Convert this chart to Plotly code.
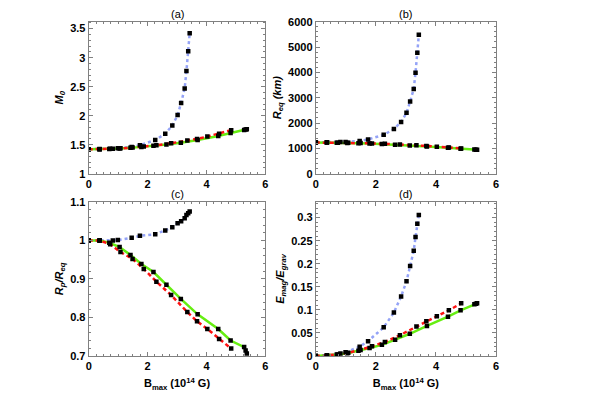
import plotly.graph_objects as go

# B_max (10^14 G) sample points for each sequence
x_blue = [0, 0.37, 0.82, 0.99, 1.46, 1.74, 2.26, 2.6, 2.84, 3.02, 3.14, 3.26, 3.32, 3.38, 3.43]
x_green = [0, 0.37, 0.7, 1.05, 1.42, 1.79, 2.2, 2.64, 3.13, 3.7, 4.4, 4.82, 5.28, 5.33, 5.37]
x_red = [0, 0.37, 0.73, 1.08, 1.49, 1.87, 2.3, 2.8, 3.35, 3.68, 4.03, 4.43, 4.84]

# (a) M_0
m0_blue = [1.42, 1.425, 1.43, 1.44, 1.46, 1.49, 1.58, 1.69, 1.83, 2.01, 2.22, 2.47, 2.77, 3.11, 3.42]
m0_green = [1.42, 1.422, 1.427, 1.435, 1.445, 1.46, 1.48, 1.505, 1.535, 1.58, 1.65, 1.70, 1.755, 1.76, 1.765]
m0_red = [1.42, 1.423, 1.428, 1.437, 1.45, 1.468, 1.49, 1.525, 1.57, 1.60, 1.64, 1.69, 1.75]

# (b) R_eq (km)
req_blue = [1240, 1245, 1250, 1255, 1290, 1354, 1533, 1762, 2043, 2401, 2848, 3346, 3985, 4776, 5479]
req_green = [1230, 1228, 1222, 1215, 1205, 1190, 1170, 1145, 1115, 1075, 1020, 985, 950, 948, 945]
req_red = [1230, 1228, 1224, 1218, 1208, 1196, 1178, 1155, 1120, 1095, 1065, 1030, 995]

# (c) R_p / R_eq
rr_blue = [1.0, 1.0, 1.0, 1.001, 1.007, 1.012, 1.016, 1.026, 1.034, 1.045, 1.05, 1.058, 1.066, 1.071, 1.075]
rr_green = [1.0, 1.0, 0.994, 0.983, 0.962, 0.939, 0.918, 0.885, 0.848, 0.808, 0.770, 0.740, 0.723, 0.714, 0.706]
rr_red = [1.0, 1.0, 0.99, 0.970, 0.952, 0.926, 0.893, 0.858, 0.814, 0.790, 0.770, 0.744, 0.719]

# (d) E_mag / E_grav
e_blue = [0, 0.001, 0.005, 0.008, 0.02, 0.032, 0.062, 0.094, 0.129, 0.162, 0.195, 0.228, 0.258, 0.287, 0.306]
e_green = [0, 0.001, 0.003, 0.006, 0.011, 0.017, 0.024, 0.035, 0.048, 0.065, 0.085, 0.099, 0.112, 0.113, 0.114]
e_red = [0, 0.001, 0.003, 0.007, 0.013, 0.021, 0.03, 0.045, 0.064, 0.075, 0.086, 0.099, 0.114]

panel_titles = ["(a)", "(b)", "(c)", "(d)"]
y_titles = ["<b><i>M<sub>0</sub></i></b>", "<b><i>R<sub>eq</sub> (km)</i></b>",
            "<b><i>R<sub>p</sub>/R<sub>eq</sub></i></b>", "<b><i>E<sub>mag</sub>/E<sub>grav</sub></i></b>"]
x_title = "<b>B<sub>max</sub> (10<sup>14</sup> G)</b>"

BLUE = "#94a3f7"
GREEN = "#66ee11"
RED = "#ff1111"

panels = [
    (m0_blue, m0_green, m0_red, [1, 3.62], 0.5),
    (req_blue, req_green, req_red, [0, 6000], 1000),
    (rr_blue, rr_green, rr_red, [0.7, 1.1], 0.1),
    (e_blue, e_green, e_red, [0, 0.334], 0.05),
]

x_domains = [[0.1445, 0.4424], [0.5275, 0.8314], [0.1445, 0.4424], [0.5275, 0.8314]]
y_domains = [[0.561, 0.959], [0.561, 0.959], [0.084, 0.487], [0.084, 0.487]]

fig = go.Figure()
layout = dict(
    width=599, height=394,
    paper_bgcolor="white", plot_bgcolor="white",
    margin=dict(l=0, r=0, t=0, b=0),
    showlegend=False,
    font=dict(family="Liberation Sans, Arial, sans-serif", size=11, color="black"),
)
annotations = []

for i, (yb, yg, yr, yrange, ydt) in enumerate(panels):
    n = "" if i == 0 else str(i + 1)
    xa, ya = "x" + n, "y" + n
    # lines first, then square markers on top
    fig.add_trace(go.Scatter(x=x_blue, y=yb, mode="lines", xaxis=xa, yaxis=ya,
                             line=dict(color=BLUE, width=2.5, dash="dot")))
    fig.add_trace(go.Scatter(x=x_green, y=yg, mode="lines", xaxis=xa, yaxis=ya,
                             line=dict(color=GREEN, width=2.5)))
    fig.add_trace(go.Scatter(x=x_red, y=yr, mode="lines", xaxis=xa, yaxis=ya,
                             line=dict(color=RED, width=2.5, dash="4px,3px")))
    for xs, ys in [(x_blue, yb), (x_green, yg), (x_red, yr)]:
        fig.add_trace(go.Scatter(x=xs, y=ys, mode="markers", xaxis=xa, yaxis=ya,
                                 marker=dict(symbol="square", size=4.5, color="black")))

    axis_common = dict(
        showline=True, linecolor="#808080", linewidth=1, mirror="ticks",
        ticks="inside", ticklen=4, tickcolor="#808080", showgrid=False, zeroline=False,
        tickfont=dict(size=11, weight="bold", color="black"),
    )
    layout["xaxis" + n] = dict(
        axis_common, domain=x_domains[i], anchor=ya, range=[0, 6], dtick=2,
        minor=dict(ticks="inside", ticklen=2, dtick=0.25, tickcolor="#808080"),
        title=dict(text=x_title if i >= 2 else "", font=dict(size=11), standoff=8),
    )
    layout["yaxis" + n] = dict(
        axis_common, domain=y_domains[i], anchor=xa, range=yrange, dtick=ydt,
        tick0=yrange[0] if i != 3 else 0,
        minor=dict(ticks="inside", ticklen=2, dtick=ydt / 5, tickcolor="#808080"),
        title=dict(text=y_titles[i], font=dict(size=11), standoff=4),
    )
    annotations.append(dict(
        text=panel_titles[i], xref="paper", yref="paper",
        x=sum(x_domains[i]) / 2, y=y_domains[i][1], yanchor="bottom", xanchor="center",
        showarrow=False, font=dict(size=11), yshift=0,
    ))

layout["annotations"] = annotations
fig.update_layout(**layout)
# the page's default body margin would push the figure off the window
fig.write_html("out.html", config={"displayModeBar": False},
               post_script=["document.body.style.margin='0';"])
